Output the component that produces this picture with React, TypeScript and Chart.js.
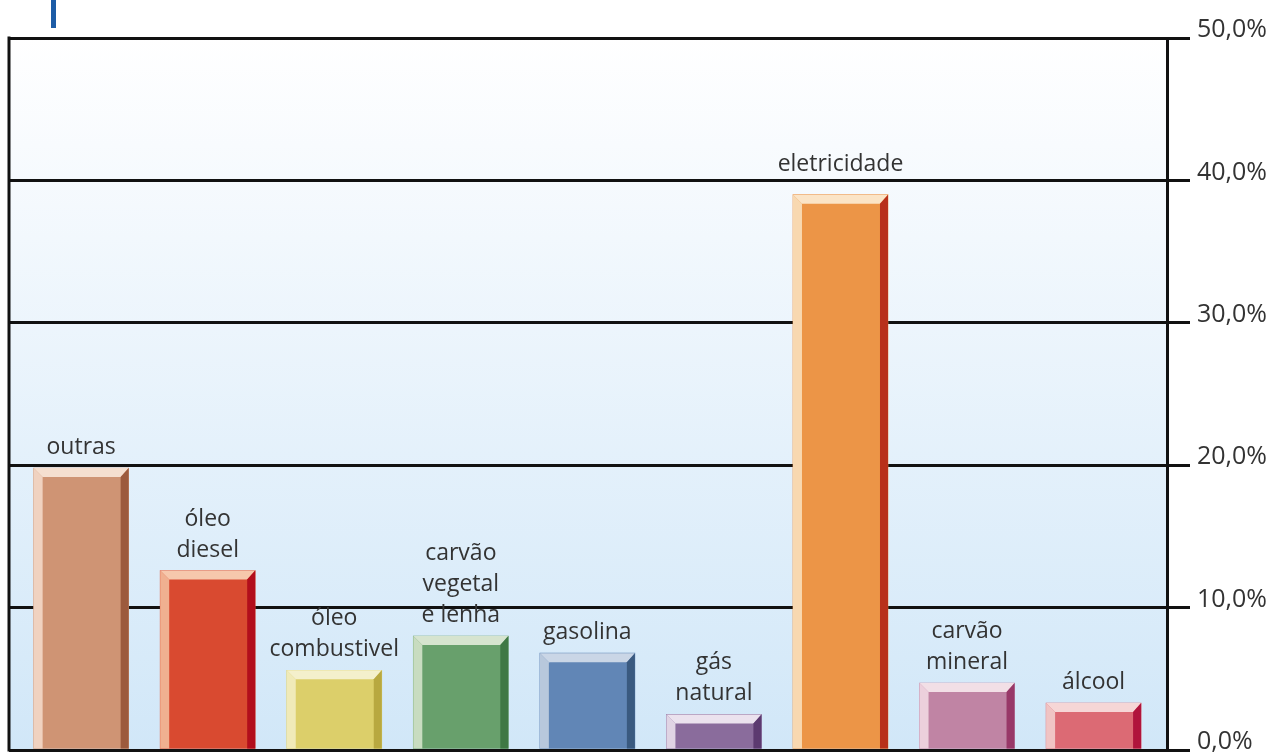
import React, { useEffect, useRef } from "react";
import { Chart, registerables } from "chart.js";

Chart.register(...registerables);

const categories = [
  "outras",
  "óleo\ndiesel",
  "óleo\ncombustivel",
  "carvão\nvegetal\ne lenha",
  "gasolina",
  "gás\nnatural",
  "eletricidade",
  "carvão\nmineral",
  "álcool",
];
const values = [19.8, 12.6, 5.6, 8.0, 6.8, 2.5, 39.0, 4.7, 3.3];
const tickValues = [0, 10, 20, 30, 40, 50];

const mainColors = ["#cf9474", "#d94a30", "#dccf6a", "#68a06c", "#6186b6", "#8a6c9c", "#ec9547", "#c084a4", "#dc6a74"];
const lightColors = ["#f0d2c0", "#f0b090", "#f0eab8", "#c8dcc0", "#b8c8dc", "#e0d4e4", "#f8d8b0", "#ecd0dc", "#f0c4c4"];
const topColors = ["#f5dfd0", "#f6c8ac", "#f4f0cc", "#d6e4cf", "#cad6e6", "#ebe2ee", "#fbe4c6", "#f2dfe6", "#f6d6d6"];
const darkColors = ["#9c5a3d", "#b20e1c", "#b8a840", "#3f7844", "#3a5a80", "#5c3a70", "#b8301a", "#983868", "#b0143c"];

const fmt = (v: number) => v.toFixed(1).replace(".", ",") + "%";

const decoPlugin = {
  id: "deco",
  beforeDraw(chart: any) {
    const { ctx, chartArea } = chart;
    const g = ctx.createLinearGradient(0, chartArea.top, 0, chartArea.bottom);
    g.addColorStop(0, "#ffffff");
    g.addColorStop(0.15, "#f8fbfe");
    g.addColorStop(1, "#d1e7f8");
    ctx.save();
    ctx.fillStyle = g;
    ctx.fillRect(chartArea.left, chartArea.top, chartArea.right - chartArea.left, chartArea.bottom - chartArea.top);
    ctx.restore();
  },
  beforeDatasetsDraw(chart: any) {
    const { ctx, chartArea } = chart;
    ctx.save();
    ctx.strokeStyle = "#111";
    ctx.lineWidth = 3;
    ctx.beginPath();
    ctx.moveTo(chartArea.left, chartArea.top - 1.5);
    ctx.lineTo(chartArea.left, chartArea.bottom + 1.5);
    ctx.stroke();
    ctx.restore();
  },
  afterDatasetsDraw(chart: any) {
    const { ctx } = chart;
    const meta = chart.getDatasetMeta(0);
    const yScale = chart.scales.y;
    const gridYs = tickValues.map((v) => yScale.getPixelForValue(v));
    ctx.save();
    meta.data.forEach((bar: any, i: number) => {
      const { x, y, base, width } = bar.getProps(["x", "y", "base", "width"], true);
      const l = x - width / 2;
      const r = x + width / 2;
      const s = 9;
      const d = 8;
      const t = 9;
      ctx.fillStyle = lightColors[i];
      ctx.beginPath();
      ctx.moveTo(l, y);
      ctx.lineTo(l + s, y + t);
      ctx.lineTo(l + s, base);
      ctx.lineTo(l, base);
      ctx.closePath();
      ctx.fill();
      ctx.fillStyle = topColors[i];
      ctx.beginPath();
      ctx.moveTo(l, y);
      ctx.lineTo(r, y);
      ctx.lineTo(r - d, y + t);
      ctx.lineTo(l + s, y + t);
      ctx.closePath();
      ctx.fill();
      ctx.fillStyle = darkColors[i];
      ctx.beginPath();
      ctx.moveTo(r, y);
      ctx.lineTo(r, base);
      ctx.lineTo(r - d, base);
      ctx.lineTo(r - d, y + t);
      ctx.closePath();
      ctx.fill();

      const lines = categories[i].split("\n");
      ctx.fillStyle = "#333";
      ctx.font = '23px "Open Sans"';
      ctx.textAlign = "center";
      ctx.textBaseline = "alphabetic";
      const lh = 31;
      let baseY = y - 14;
      // keep a label's last line clear of a gridline it would sit on
      gridYs.forEach((gy: number) => {
        if (Math.abs(baseY - gy) < 5) baseY = gy - 9;
      });
      lines.forEach((ln, k) => {
        const by = baseY - (lines.length - 1 - k) * lh;
        ctx.fillText(ln, x, by);
      });
    });
    ctx.restore();
  },
};

export default function App() {
  const ref = useRef<HTMLCanvasElement | null>(null);
  useEffect(() => {
    if (!ref.current) return;
    const chart = new Chart(ref.current, {
      type: "bar",
      data: {
        datasets: [
          {
            data: values.map((v, i) => ({ x: i, y: v })),
            backgroundColor: mainColors,
            borderWidth: 0,
            barThickness: 95,
          },
        ],
      },
      options: {
        animation: false,
        responsive: true,
        maintainAspectRatio: false,
        layout: { padding: { left: 9, top: 38, bottom: 3, right: 0 } },
        plugins: { legend: { display: false }, tooltip: { enabled: false } },
        scales: {
          x: {
            type: "linear",
            min: -0.57,
            max: 8.58,
            offset: false,
            display: false,
          },
          y: {
            position: "right",
            min: 0,
            max: 50,
            afterBuildTicks: (s: any) => {
              s.ticks = tickValues.map((v) => ({ value: v }));
            },
            afterFit: (s: any) => {
              s.width = 115;
              s.paddingTop = 0;
              s.paddingBottom = 0;
            },
            grid: { color: "#111", lineWidth: 3, tickLength: 23, drawTicks: true },
            border: { display: true, color: "#111", width: 3 },
            ticks: {
              padding: 7,
              labelOffset: -8,
              color: "#333",
              font: { family: '"Open Sans"', size: 25 },
              callback: (v: any) => fmt(Number(v)),
            },
          },
        },
      },
      plugins: [decoPlugin],
    });
    return () => chart.destroy();
  }, []);
  return (
    <div style={{ position: "absolute", left: 0, top: 0, width: 1282, height: 753, background: "#fff" }}>
      <div style={{ position: "absolute", left: 51, top: 0, width: 5, height: 28, background: "#1d5ca6" }} />
      <canvas ref={ref} style={{ width: "100%", height: "100%" }} />
    </div>
  );
}
